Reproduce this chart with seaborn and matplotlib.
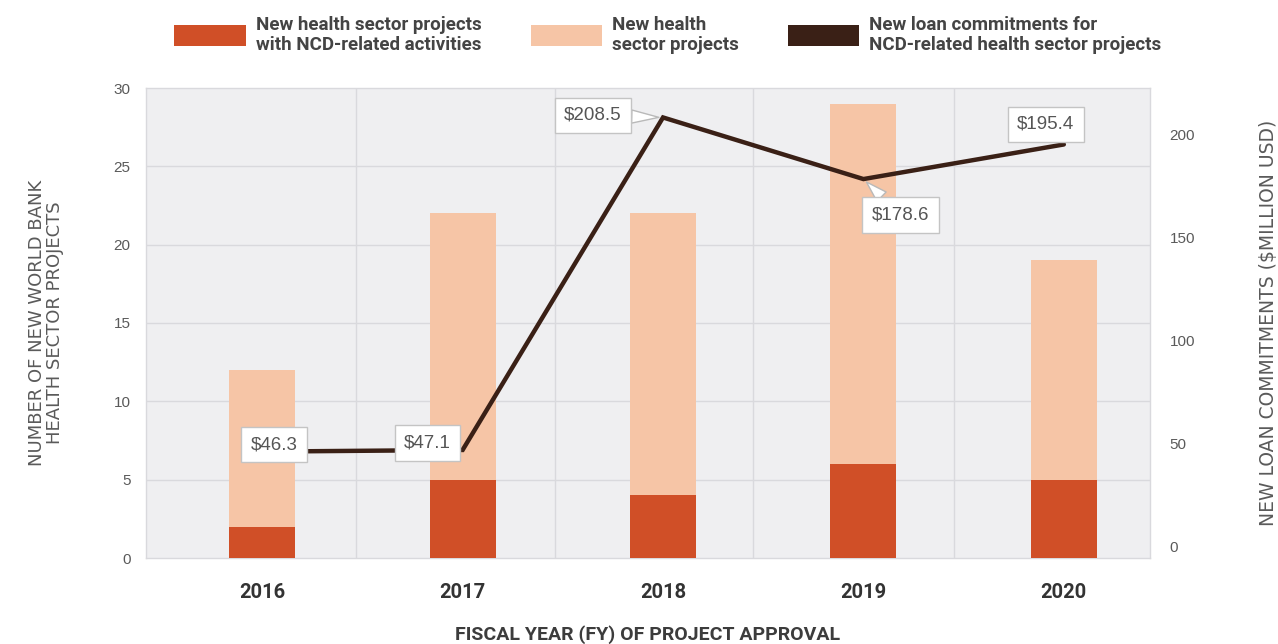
import numpy as np
import pandas as pd
import matplotlib
matplotlib.use("Agg")
import matplotlib.pyplot as plt
from matplotlib.patches import Patch
import seaborn as sns

years = ["2016", "2017", "2018", "2019", "2020"]
total_projects = [12, 22, 22, 29, 19]
ncd_projects = [2, 5, 4, 6, 5]
loan_commitments = [46.3, 47.1, 208.5, 178.6, 195.4]
loan_labels = ["$46.3", "$47.1", "$208.5", "$178.6", "$195.4"]

C_NCD = "#d04f27"
C_TOTAL = "#f6c5a6"
C_LINE = "#3a2016"
C_BG = "#efeff1"
C_GRID = "#d9d9dd"
C_TICK = "#5a5a5a"

sns.set_style("white")
HEAD = ["Roboto", "DejaVu Sans"]
plt.rcParams["font.family"] = ["Liberation Sans", "DejaVu Sans"]

df = pd.DataFrame({"year": years, "total": total_projects, "ncd": ncd_projects,
                   "loan": loan_commitments})

fig = plt.figure(figsize=(12.78, 6.44), dpi=100)
ax = fig.add_axes([146 / 1278, 1 - 558 / 644, (1150 - 146) / 1278, (558 - 88) / 644])
ax.set_facecolor(C_BG)

sns.barplot(data=df, x="year", y="total", color=C_TOTAL, width=0.33,
            saturation=1, linewidth=0, edgecolor="none", ax=ax, zorder=2)
sns.barplot(data=df, x="year", y="ncd", color=C_NCD, width=0.33,
            saturation=1, linewidth=0, edgecolor="none", ax=ax, zorder=3)

ax.set_xlim(-0.58, 4.43)
ax.set_ylim(0, 30)
ax.set_yticks([0, 5, 10, 15, 20, 25, 30])
for yv in [5, 10, 15, 20, 25]:
    ax.axhline(yv, color=C_GRID, lw=1, zorder=1)
for xv in [0.47, 1.46, 2.45, 3.45]:
    ax.axvline(xv, color=C_GRID, lw=1, zorder=1)
for s in ax.spines.values():
    s.set_color(C_GRID)
    s.set_linewidth(1)
ax.tick_params(axis="y", length=0, pad=11, labelsize=11, labelcolor=C_TICK)
ax.tick_params(axis="x", length=0, pad=18, labelsize=14.5, labelcolor="#333333")
for lab in ax.get_xticklabels():
    lab.set_family(HEAD)
    lab.set_fontweight("bold")
ax.set_xlabel("FISCAL YEAR (FY) OF PROJECT APPROVAL", family=HEAD, fontsize=14,
              fontweight="bold", color="#3c3c3c", labelpad=17)
ax.set_ylabel("NUMBER OF NEW WORLD BANK\nHEALTH SECTOR PROJECTS", family="DejaVu Sans",
              fontsize=13, color=C_TICK, labelpad=36, linespacing=1.0)

ax2 = ax.twinx()
ax2.set_zorder(ax.get_zorder() + 1)
ax2.patch.set_visible(False)
df["pos"] = np.arange(len(years))
sns.lineplot(data=df, x="pos", y="loan", color=C_LINE, lw=3.2, ax=ax2,
             solid_joinstyle="miter", zorder=4)
ax2.set_ylim(-5.34, 222.8)
ax2.set_yticks([0, 50, 100, 150, 200])
ax2.set_xlim(-0.58, 4.43)
for s in ax2.spines.values():
    s.set_visible(False)
ax2.tick_params(axis="y", length=0, pad=14, labelsize=11, labelcolor=C_TICK)
ax2.set_ylabel("NEW LOAN COMMITMENTS (\\$MILLION USD)", family="DejaVu Sans",
               fontsize=13.5, color=C_TICK, labelpad=46)
ax2.set_xlabel("")

# value callouts: (offset in pixels, draw pointer)
callouts = [((12, 7), False), ((-35, 7), False), ((-70, 2), True),
            ((37, -36), True), ((-18, 20), False)]
for i, (val, lab) in enumerate(zip(loan_commitments, loan_labels)):
    (dx, dy), pointer = callouts[i]
    kw = {}
    if pointer:
        kw["arrowprops"] = dict(arrowstyle="wedge,tail_width=0.7,shrink_factor=0.5",
                                fc="white", ec="#b9b9b9", lw=1,
                                shrinkA=0, shrinkB=3)
    ax2.annotate(lab.replace("$", "\\$"), xy=(i, val), xytext=(dx, dy),
                 textcoords="offset pixels", ha="center", va="center",
                 fontsize=13.5, color="#555555", zorder=6,
                 bbox=dict(boxstyle="square,pad=0.5", fc="white", ec="#c4c4c4", lw=1),
                 **kw)

handles = [Patch(fc=C_NCD, ec="none"), Patch(fc=C_TOTAL, ec="none"),
           Patch(fc=C_LINE, ec="none")]
labels = ["New health sector projects\nwith NCD-related activities",
          "New health\nsector projects",
          "New loan commitments for\nNCD-related health sector projects"]
fig.legend(handles, labels, loc="center", bbox_to_anchor=(668 / 1278, 1 - 35 / 644),
           ncol=3, frameon=False, handlelength=3.8, handleheight=1.35,
           handletextpad=0.55, columnspacing=2.6,
           prop=dict(family=HEAD, size=13.5, weight="bold"),
           labelcolor="#444444")

fig.savefig("out.png", dpi=100)
